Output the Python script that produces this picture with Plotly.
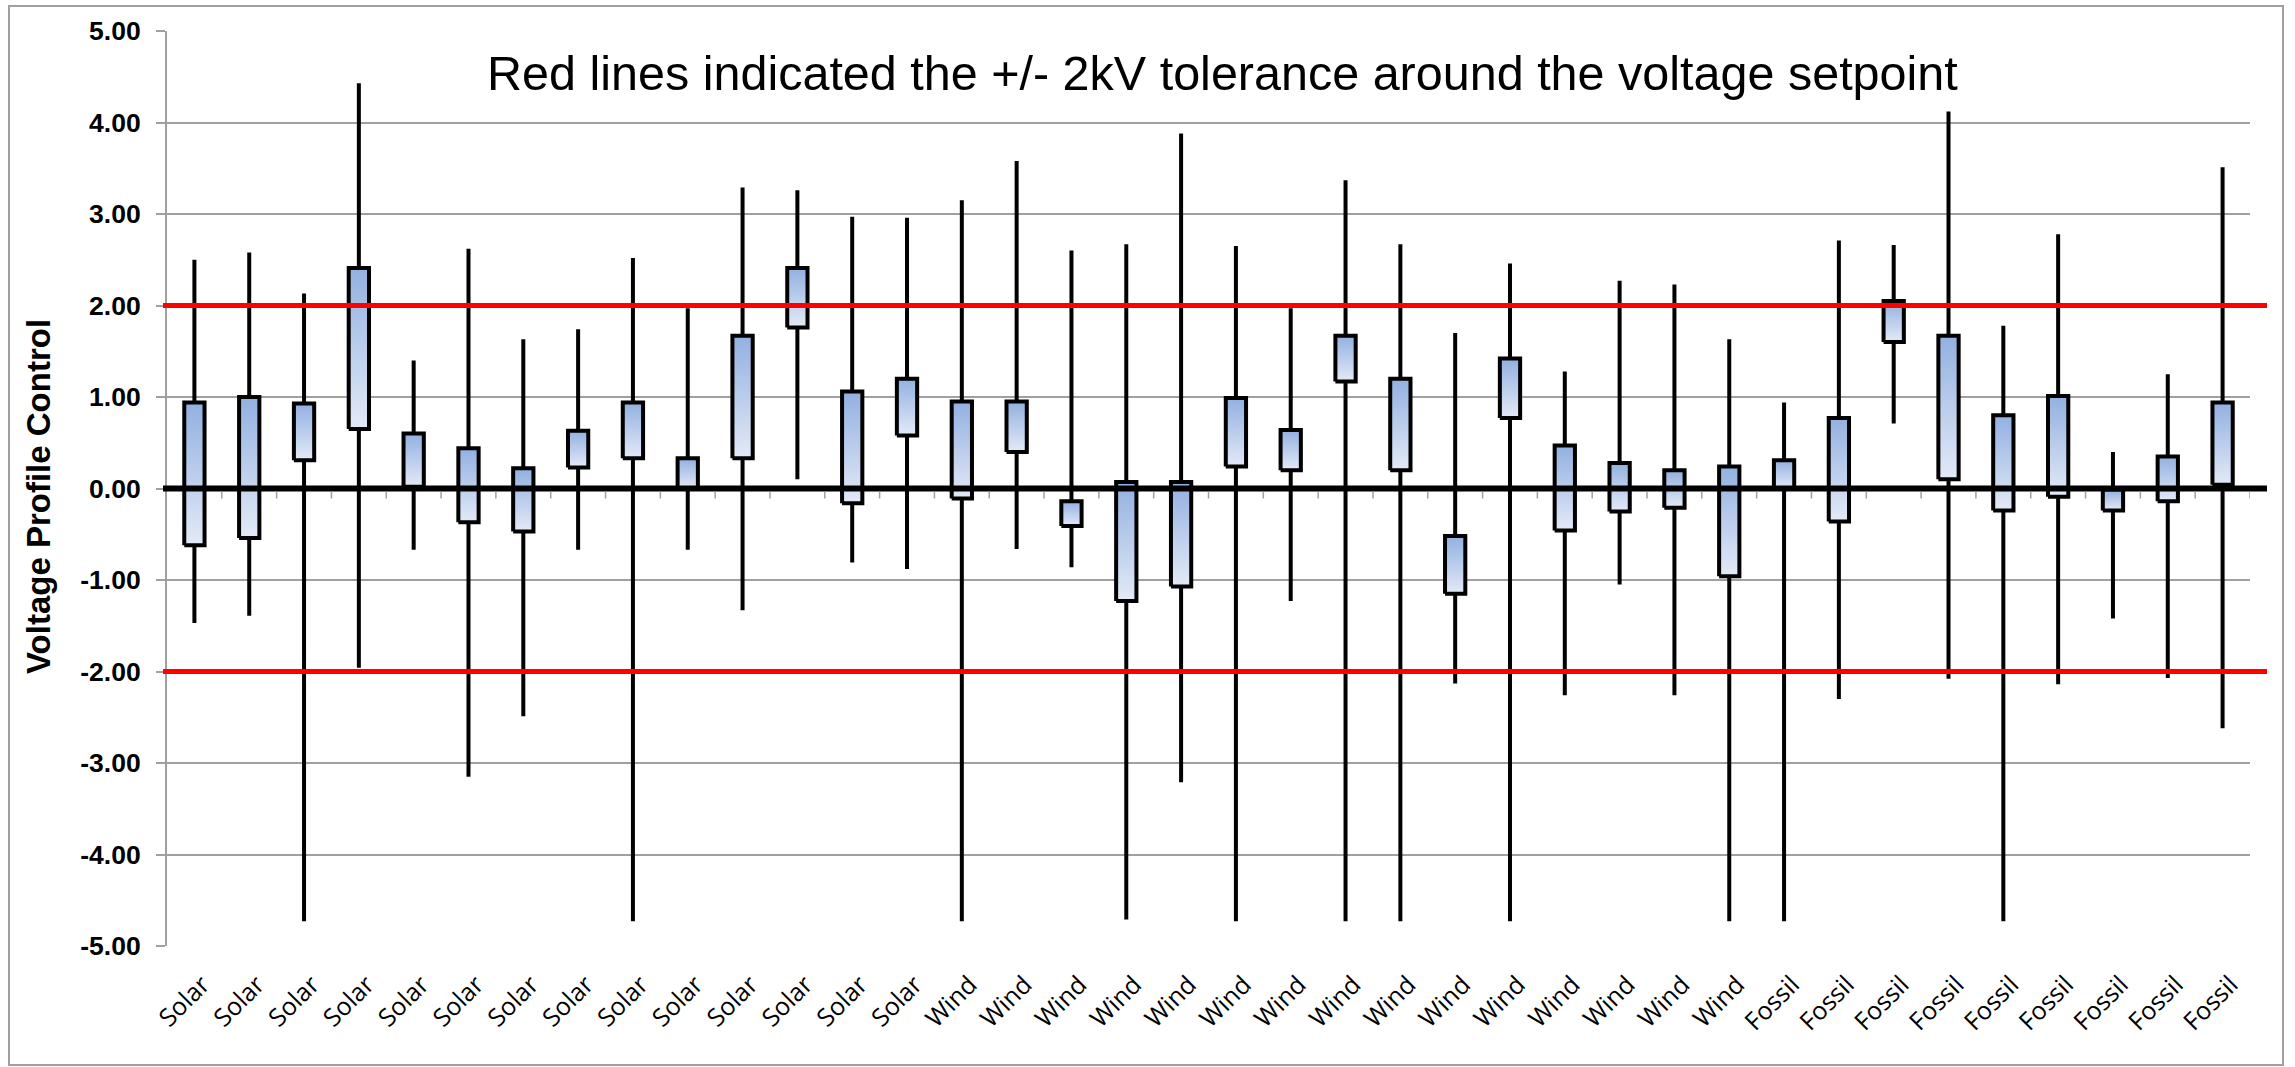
import plotly.graph_objects as go

# Generating units (x categories)
categories = [
    "Solar", "Solar", "Solar", "Solar", "Solar", "Solar", "Solar",
    "Solar", "Solar", "Solar", "Solar", "Solar", "Solar", "Solar",
    "Wind", "Wind", "Wind", "Wind", "Wind", "Wind", "Wind", "Wind",
    "Wind", "Wind", "Wind", "Wind", "Wind", "Wind", "Wind",
    "Fossil", "Fossil", "Fossil", "Fossil", "Fossil", "Fossil",
    "Fossil", "Fossil", "Fossil",
]

# High / low whisker ends and box (bar) limits, kV deviation from setpoint
high = [2.50, 2.58, 2.13, 4.43, 1.40, 2.62, 1.63, 1.74, 2.52, 1.97, 3.29, 3.26,
        2.97, 2.96, 3.15, 3.58, 2.60, 2.67, 3.88, 2.65, 1.97, 3.37, 2.67, 1.70,
        2.46, 1.28, 2.27, 2.23, 1.63, 0.94, 2.71, 2.66, 4.12, 1.78, 2.78, 0.40,
        1.25, 3.51]
box_top = [0.94, 1.00, 0.93, 2.41, 0.60, 0.44, 0.22, 0.63, 0.94, 0.33, 1.67, 2.41,
           1.06, 1.20, 0.95, 0.95, -0.14, 0.07, 0.07, 0.99, 0.64, 1.67, 1.20, -0.52,
           1.42, 0.47, 0.28, 0.20, 0.24, 0.31, 0.77, 2.05, 1.67, 0.80, 1.01, -0.01,
           0.35, 0.94]
box_bottom = [-0.62, -0.54, 0.31, 0.65, 0.02, -0.37, -0.47, 0.23, 0.33, 0.00, 0.33, 1.76,
              -0.16, 0.58, -0.11, 0.40, -0.41, -1.23, -1.07, 0.24, 0.20, 1.17, 0.20, -1.15,
              0.77, -0.46, -0.25, -0.21, -0.96, 0.00, -0.36, 1.60, 0.10, -0.24, -0.09, -0.24,
              -0.14, 0.04]
low = [-1.47, -1.39, -4.73, -1.96, -0.67, -3.15, -2.49, -0.67, -4.73, -0.67, -1.33, 0.10,
       -0.81, -0.88, -4.73, -0.66, -0.86, -4.71, -3.21, -4.73, -1.23, -4.73, -4.73, -2.13,
       -4.73, -2.26, -1.05, -2.26, -4.73, -4.73, -2.30, 0.71, -2.08, -4.73, -2.14, -1.42,
       -2.07, -2.62]

tolerance = 2.0
y_ticks = [5, 4, 3, 2, 1, 0, -1, -2, -3, -4, -5]
y_tick_text = ["%.2f" % v for v in y_ticks]

W, H = 2295, 1067
L, R, T, B = 167, 45, 31, 121
PW, PH = W - L - R, H - T - B


def px_x(p):
    return (p - L) / PW


def px_y(p):
    return (H - B - p) / PH


FONT = "Liberation Sans, Arial, sans-serif"
GRID = "#a0a0a0"
HALF = 0.185

xs = list(range(len(categories)))
fig = go.Figure()

# whiskers
wx, wy = [], []
for i in xs:
    wx += [i, i, None]
    wy += [low[i], high[i], None]
fig.add_trace(go.Scatter(x=wx, y=wy, mode="lines",
                         line=dict(color="black", width=4),
                         hoverinfo="skip", showlegend=False))

# boxes with vertical gradient fill
for i in xs:
    lo_v, hi_v = box_bottom[i], box_top[i]
    fig.add_trace(go.Scatter(
        x=[i - HALF, i + HALF, i + HALF, i - HALF, i - HALF],
        y=[lo_v, lo_v, hi_v, hi_v, lo_v],
        mode="lines", fill="toself",
        fillgradient=dict(type="vertical",
                          colorscale=[[0, "#e3eaf7"], [1, "#92b0e0"]]),
        line=dict(color="black", width=4),
        hoverinfo="skip", showlegend=False))

shapes = []
# tolerance band limits and zero line
for yv, col, lw in [(tolerance, "#ff0000", 5), (-tolerance, "#ff0000", 5), (0, "black", 6)]:
    shapes.append(dict(type="line", xref="paper", yref="y",
                       x0=px_x(163), x1=px_x(2267), y0=yv, y1=yv,
                       line=dict(color=col, width=lw), layer="above"))
# category separators on the zero line
for i in range(len(categories)):
    shapes.append(dict(type="line", xref="x", yref="y",
                       ysizemode="pixel", yanchor=0,
                       x0=i + 0.5, x1=i + 0.5, y0=-3, y1=-10,
                       line=dict(color=GRID, width=1.5), layer="above"))
# outer chart border
shapes.append(dict(type="rect", xref="paper", yref="paper",
                   x0=px_x(9), x1=px_x(2283), y0=px_y(1065), y1=px_y(6),
                   line=dict(color="#a0a0a0", width=2), layer="below"))

annotations = [
    dict(text="Red lines indicated the +/- 2kV tolerance around the voltage setpoint",
         xref="paper", yref="paper", x=px_x(1222), y=px_y(73),
         xanchor="center", yanchor="middle", showarrow=False,
         font=dict(family=FONT, size=48.5, color="black")),
    dict(text="Voltage Profile Control", textangle=-90,
         xref="paper", yref="paper", x=px_x(38), y=px_y(497),
         xanchor="center", yanchor="middle", showarrow=False,
         font=dict(family=FONT, size=33, color="black", weight="bold")),
]

fig.update_layout(
    width=W, height=H,
    margin=dict(l=L, r=R, t=T, b=B),
    paper_bgcolor="white", plot_bgcolor="white",
    showlegend=False,
    shapes=shapes, annotations=annotations,
    xaxis=dict(range=[-0.5, len(categories) - 0.5],
               tickmode="array", tickvals=xs, ticktext=categories,
               tickangle=-45, showgrid=False, zeroline=False,
               showline=False, ticks="", ticklabelstandoff=18,
               ticklabelshift=8,
               tickfont=dict(family="Open Sans, sans-serif", size=25, color="black")),
    yaxis=dict(range=[-5, 5], tickmode="array", tickvals=y_ticks,
               ticktext=y_tick_text,
               showgrid=True, gridcolor=GRID, gridwidth=2,
               zeroline=False, showline=True, linecolor=GRID, linewidth=2,
               ticks="outside", ticklen=9, tickcolor=GRID, tickwidth=2,
               ticklabelstandoff=10,
               tickfont=dict(family=FONT, size=26.5, color="black", weight="bold")),
)

fig.write_html("out.html")
